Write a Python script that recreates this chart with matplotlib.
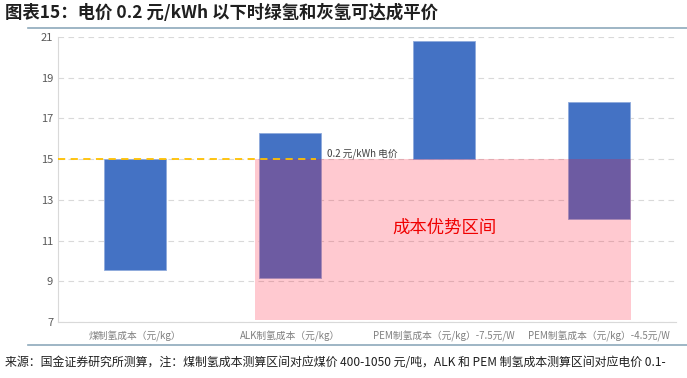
import matplotlib.pyplot as plt
from matplotlib.patches import Rectangle
import numpy as np

plt.rcParams['font.family'] = ['Noto Sans CJK SC', 'DejaVu Sans']

categories = ['煤制氢成本（元/kg）', 'ALK制氢成本（元/kg）',
              'PEM制氢成本（元/kg）-7.5元/W', 'PEM制氢成本（元/kg）-4.5元/W']
low = [9.55, 9.15, 15.0, 12.05]
high = [15.0, 16.3, 20.8, 17.8]
price_line = 15.0
zone_low = 7.1

fig = plt.figure(figsize=(6.87, 3.78), dpi=100)
ax = fig.add_axes([0.0844, 0.148, 0.8996, 0.754])

x = np.arange(len(categories))
heights = np.array(high) - np.array(low)
ax.bar(x, heights, bottom=low, width=0.4, color='#4472C4', zorder=2,
       edgecolor='#8FAADC', linewidth=0.6)

# cost advantage zone, over bars 2..4
x0 = x[1] - 0.225
x1 = x[3] + 0.21
ax.add_patch(Rectangle((x0, zone_low), x1 - x0, price_line - zone_low,
                       facecolor=(1.0, 0.05, 0.17), alpha=0.22,
                       edgecolor='none', zorder=3))
ax.text(x[2], 11.65, '成本优势区间', color='#F00000',
        fontsize=12.5, fontweight='light', ha='center', va='center', zorder=4)

ax.plot([-0.5, x[1] + 0.17], [price_line, price_line], color='#FFC000',
        linestyle=(0, (4, 3)), linewidth=1.3, zorder=4)
ax.text(x[1] + 0.24, price_line + 0.02, '0.2 元/kWh 电价', fontsize=7,
        color='#404040', va='bottom', zorder=4)

ax.set_xlim(-0.5, 3.5)
ax.set_ylim(7, 21)
ax.set_yticks(range(7, 22, 2))
ax.set_xticks(x)
ax.set_xticklabels(categories, fontsize=7, color='#808080')
ax.tick_params(axis='y', labelsize=8, colors='#595959', length=0)
ax.tick_params(axis='x', length=0, pad=6)
ax.grid(axis='y', color='#D9D9D9', linestyle=(0, (5, 4)), linewidth=0.8, zorder=0)
for s in ['top', 'right']:
    ax.spines[s].set_visible(False)
ax.spines['left'].set_color('#D9D9D9')
ax.spines['bottom'].set_color('#D9D9D9')

fig.text(0.008, 0.965, '图表15：电价 0.2 元/kWh 以下时绿氢和灰氢可达成平价',
         fontsize=12.5, fontweight='bold', color='#1F1F1F', va='center', style='italic')
fig.add_artist(plt.Line2D([0.041, 1.0], [0.926, 0.926], color='#8EA9BB', linewidth=1.2))
fig.add_artist(plt.Line2D([0.041, 1.0], [0.087, 0.087], color='#8EA9BB', linewidth=1.2))
fig.text(0.008, 0.042,
         '来源：国金证券研究所测算，注：煤制氢成本测算区间对应煤价 400-1050 元/吨，ALK 和 PEM 制氢成本测算区间对应电价 0.1-',
         fontsize=8.6, color='#1F1F1F', va='center')

fig.savefig('out.png', dpi=100)
